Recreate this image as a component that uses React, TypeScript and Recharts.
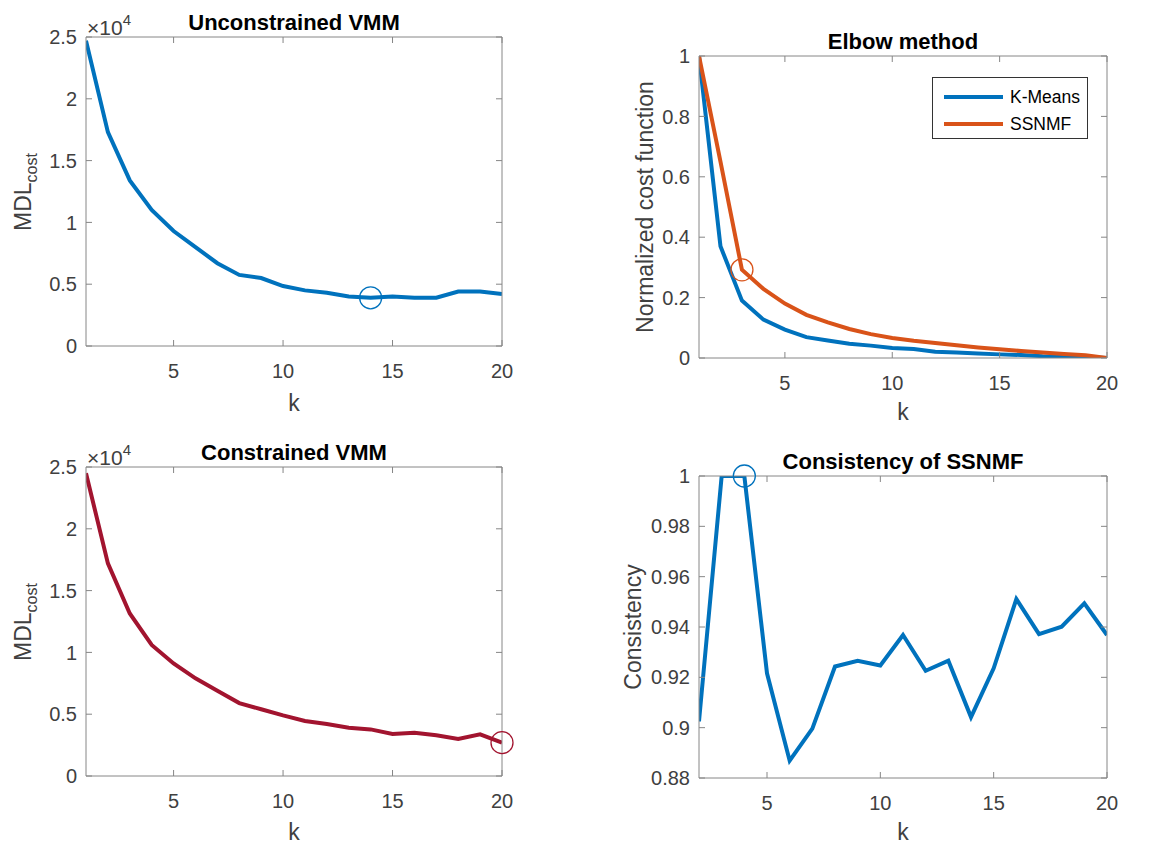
import React from 'react'
import { LineChart, Line, XAxis, YAxis, ReferenceDot } from 'recharts'

const kAll = [1, 2, 3, 4, 5, 6, 7, 8, 9, 10, 11, 12, 13, 14, 15, 16, 17, 18, 19, 20]
const unconstrained = [24700, 17300, 13400, 11000, 9300, 8000, 6700, 5750, 5500, 4850, 4500, 4300, 4000, 3900, 4000, 3900, 3900, 4400, 4400, 4200]
const constrained = [24500, 17200, 13150, 10600, 9100, 7900, 6900, 5900, 5400, 4900, 4450, 4200, 3900, 3770, 3400, 3500, 3300, 3000, 3370, 2700]
const kmeans = [1, 0.37, 0.19, 0.127, 0.094, 0.069, 0.058, 0.047, 0.041, 0.033, 0.03, 0.021, 0.018, 0.015, 0.012, 0.01, 0.006, 0.004, 0.003, 0]
const ssnmf = [1, 0.65, 0.292, 0.229, 0.18, 0.143, 0.118, 0.096, 0.079, 0.066, 0.057, 0.05, 0.042, 0.035, 0.029, 0.023, 0.018, 0.013, 0.009, 0]
const kCons = [2, 3, 4, 5, 6, 7, 8, 9, 10, 11, 12, 13, 14, 15, 16, 17, 18, 19, 20]
const consistency = [0.9025, 1, 1, 0.9216, 0.8869, 0.8996, 0.9243, 0.9266, 0.9247, 0.9368, 0.9226, 0.9266, 0.9042, 0.9236, 0.9511, 0.9372, 0.9401, 0.9494, 0.9368]

const kTicks = [5, 10, 15, 20]
const mdlTicks = [0, 5000, 10000, 15000, 20000, 25000]
const normTicks = [0, 0.2, 0.4, 0.6, 0.8, 1]
const consTicks = [0.88, 0.9, 0.92, 0.94, 0.96, 0.98, 1]

const BLUE = '#0072BD'
const ORANGE = '#D95319'
const RED = '#A2142F'
const AXIS = '#868686'
const TEXT = '#404040'
const FONT = '"Liberation Sans", Arial, Helvetica, sans-serif'

const unconData = kAll.map((k, i) => ({ k, v: unconstrained[i] }))
const consData = kAll.map((k, i) => ({ k, v: constrained[i] }))
const elbowData = kAll.map((k, i) => ({ k, km: kmeans[i], ss: ssnmf[i] }))
const consistData = kCons.map((k, i) => ({ k, v: consistency[i] }))

const tickStyle = { fill: TEXT, fontSize: 20, fontFamily: FONT }

// plot box: left, top, right, bottom in page pixels
type Box = { l: number; t: number; r: number; b: number }

function Panel({ box, data, xDomain, yDomain, yTicks, yFmt, children }: {
  box: Box; data: any[]; xDomain: [number, number]; yDomain: [number, number];
  yTicks: number[]; yFmt?: (v: number) => string; children: React.ReactNode
}) {
  const left = box.l - 90
  const top = box.t - 30
  const width = box.r - left + 30
  const height = box.b - top + 60
  return (
    <div style={{ position: 'absolute', left, top }}>
      <LineChart width={width} height={height} data={data}
        margin={{ left: 0, top: 29, right: 29, bottom: 20 }}>
        <XAxis type="number" dataKey="k" domain={xDomain} ticks={kTicks} allowDataOverflow
          height={40} tickSize={-6} tickMargin={24} stroke={AXIS} tick={tickStyle} />
        <XAxis xAxisId="top" orientation="top" type="number" dataKey="k" domain={xDomain}
          ticks={kTicks} allowDataOverflow height={1} tickSize={-6} stroke={AXIS} tickFormatter={() => ''} />
        <YAxis type="number" domain={yDomain} ticks={yTicks} allowDataOverflow width={90}
          tickSize={-6} tickMargin={15} stroke={AXIS} tick={tickStyle} tickFormatter={yFmt} interval={0} />
        <YAxis yAxisId="right" orientation="right" type="number" domain={yDomain} ticks={yTicks}
          allowDataOverflow width={1} tickSize={-6} stroke={AXIS} tickFormatter={() => ''} interval={0} />
        {children}
      </LineChart>
    </div>
  )
}

const txt = (s: React.CSSProperties): React.CSSProperties => ({
  position: 'absolute', fontFamily: FONT, whiteSpace: 'nowrap', lineHeight: 1, ...s,
})

function Title({ x, y, children }: { x: number; y: number; children: React.ReactNode }) {
  return <div style={txt({ left: x, top: y, transform: 'translate(-50%, -50%)', fontSize: 22, fontWeight: 'bold', color: '#000' })}>{children}</div>
}

function XLabel({ x, y }: { x: number; y: number }) {
  return <div style={txt({ left: x, top: y, transform: 'translate(-50%, -50%)', fontSize: 23, color: TEXT })}>k</div>
}

function YLabel({ x, y, children }: { x: number; y: number; children: React.ReactNode }) {
  return <div style={txt({ left: x, top: y, transform: 'translate(-50%, -50%) rotate(-90deg)', fontSize: 23, color: TEXT })}>{children}</div>
}

function Exponent({ x, y }: { x: number; y: number }) {
  return <div style={txt({ left: x, top: y, fontSize: 21, color: TEXT })}>×10<sup style={{ fontSize: 15, verticalAlign: 10 }}>4</sup></div>
}

const mdlFmt = (v: number) => String(v / 10000)

const b1: Box = { l: 86, t: 37, r: 502, b: 346 }
const b2: Box = { l: 699, t: 56, r: 1107, b: 358 }
const b3: Box = { l: 86, t: 467, r: 502, b: 776 }
const b4: Box = { l: 699, t: 476, r: 1107, b: 778 }

export default function App() {
  return (
    <div style={{ position: 'absolute', left: 0, top: 0, width: 1173, height: 843, background: '#fff', overflow: 'hidden' }}>
      <Panel box={b1} data={unconData} xDomain={[1, 20]} yDomain={[0, 25000]} yTicks={mdlTicks} yFmt={mdlFmt}>
        <Line dataKey="v" stroke={BLUE} strokeWidth={4} dot={false} isAnimationActive={false} type="linear" />
        <ReferenceDot x={14} y={3900} r={11} fill="none" stroke={BLUE} strokeWidth={1.3} />
      </Panel>
      <Panel box={b2} data={elbowData} xDomain={[1, 20]} yDomain={[0, 1]} yTicks={normTicks}>
        <Line dataKey="km" stroke={BLUE} strokeWidth={4} dot={false} isAnimationActive={false} type="linear" />
        <Line dataKey="ss" stroke={ORANGE} strokeWidth={4} dot={false} isAnimationActive={false} type="linear" />
        <ReferenceDot x={3} y={0.292} r={11} fill="none" stroke={ORANGE} strokeWidth={1.3} />
      </Panel>
      <Panel box={b3} data={consData} xDomain={[1, 20]} yDomain={[0, 25000]} yTicks={mdlTicks} yFmt={mdlFmt}>
        <Line dataKey="v" stroke={RED} strokeWidth={4} dot={false} isAnimationActive={false} type="linear" />
        <ReferenceDot x={20} y={2700} r={11} fill="none" stroke={RED} strokeWidth={1.3} ifOverflow="visible" />
      </Panel>
      <Panel box={b4} data={consistData} xDomain={[2, 20]} yDomain={[0.88, 1]} yTicks={consTicks}>
        <Line dataKey="v" stroke={BLUE} strokeWidth={4} dot={false} isAnimationActive={false} type="linear" />
        <ReferenceDot x={4} y={1} r={11} fill="none" stroke={BLUE} strokeWidth={1.3} ifOverflow="visible" />
      </Panel>

      <Title x={294} y={23}>Unconstrained VMM</Title>
      <Title x={903} y={42}>Elbow method</Title>
      <Title x={294} y={453}>Constrained VMM</Title>
      <Title x={903} y={462}>Consistency of SSNMF</Title>

      <Exponent x={87} y={12} />
      <Exponent x={87} y={442} />

      <XLabel x={294} y={403} />
      <XLabel x={903} y={412} />
      <XLabel x={294} y={832} />
      <XLabel x={903} y={832} />

      <YLabel x={26} y={192}>MDL<sub style={{ fontSize: 16 }}>cost</sub></YLabel>
      <YLabel x={645} y={207}>Normalized cost function</YLabel>
      <YLabel x={26} y={622}>MDL<sub style={{ fontSize: 16 }}>cost</sub></YLabel>
      <YLabel x={633} y={627}>Consistency</YLabel>

      <div style={{ position: 'absolute', left: 932, top: 77, width: 154, height: 60, border: '1px solid #333', background: '#fff' }}>
        {[{ name: 'K-Means', color: BLUE }, { name: 'SSNMF', color: ORANGE }].map((s, i) => (
          <div key={s.name} style={{ position: 'absolute', left: 11, top: 9 + i * 27, height: 20, display: 'flex', alignItems: 'center' }}>
            <div style={{ width: 59, height: 4, background: s.color }} />
            <span style={{ marginLeft: 7, fontFamily: FONT, fontSize: 17.5, color: '#000' }}>{s.name}</span>
          </div>
        ))}
      </div>
    </div>
  )
}
